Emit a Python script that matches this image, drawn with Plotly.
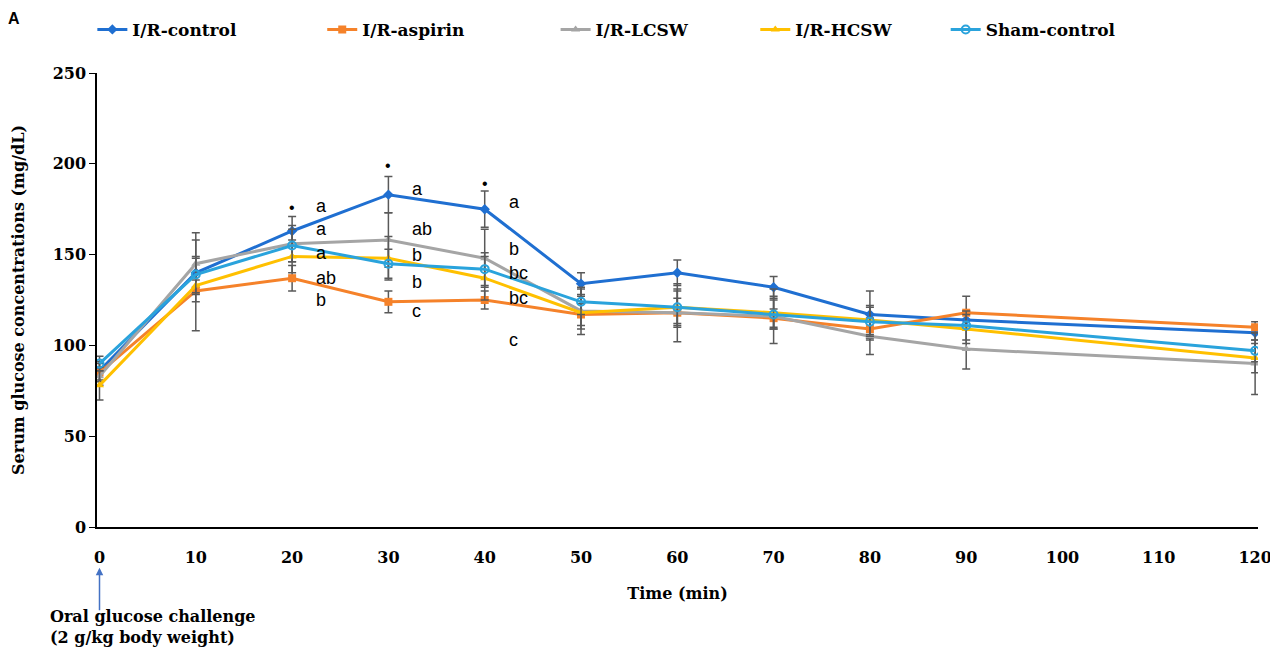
import plotly.graph_objects as go

time = [0, 10, 20, 30, 40, 50, 60, 70, 80, 90, 120]
x_ticks = [0, 10, 20, 30, 40, 50, 60, 70, 80, 90, 100, 110, 120]

ctrl = [86, 140, 163, 183, 175, 134, 140, 132, 117, 114, 107]
ctrl_err = [5, 8, 8, 10, 10, 6, 7, 6, 13, 5, 4]
aspirin = [85, 130, 137, 124, 125, 117, 118, 115, 109, 118, 110]
aspirin_err = [5, 6, 7, 6, 5, 6, 8, 5, 6, 9, 3]
lcsw = [83, 145, 156, 158, 148, 119, 118, 116, 105, 98, 90]
lcsw_err = [5, 17, 10, 15, 16, 13, 16, 15, 10, 11, 17]
hcsw = [78, 133, 149, 148, 137, 118, 121, 118, 114, 109, 93]
hcsw_err = [8, 25, 9, 12, 12, 9, 10, 9, 8, 8, 8]
sham = [90, 139, 155, 145, 142, 124, 121, 117, 113, 111, 97]
sham_err = [4, 10, 9, 8, 9, 7, 9, 8, 8, 8, 6]

names = ["I/R-control", "I/R-aspirin", "I/R-LCSW", "I/R-HCSW", "Sham-control"]
colors = ["#1F6FD1", "#F5822A", "#A5A5A5", "#FFC000", "#2AA3DC"]

# significance letters: (time, y, text)
letter_t = [20, 20, 20, 20, 20, 30, 30, 30, 30, 30, 40, 40, 40, 40, 40]
letter_y = [177, 164, 151, 137, 125, 186, 164, 150, 135, 119, 179, 153, 140, 126, 103]
letter_s = ["a", "a", "a", "ab", "b", "a", "ab", "b", "b", "c", "a", "b", "bc", "bc", "c"]
star_t = [20, 30, 40]
star_y = [176, 199, 189]

fig = go.Figure()
series = [(ctrl, ctrl_err, "diamond"), (aspirin, aspirin_err, "square"),
          (lcsw, lcsw_err, "triangle-up"), (hcsw, hcsw_err, "triangle-up"),
          (sham, sham_err, "circle-open")]
legend_ids = ["legend", "legend2", "legend3", "legend4", "legend5"]
for i, (vals, err, sym) in enumerate(series):
    fig.add_trace(go.Scatter(
        x=time, y=vals, name=names[i], mode="lines+markers",
        line=dict(color=colors[i], width=3),
        marker=dict(symbol=sym, size=8, color=colors[i],
                    line=dict(color=colors[i], width=2 if sym == "circle-open" else 0)),
        error_y=dict(type="data", array=err, visible=True, color="#595959",
                     thickness=1.5, width=4),
        legend=legend_ids[i], showlegend=True,
    ))

serif = "DejaVu Serif"
annotations = []
for t, yv, s in zip(letter_t, letter_y, letter_s):
    annotations.append(dict(x=t, y=yv, xref="x", yref="y", text=s, showarrow=False,
                            xanchor="left", xshift=22,
                            font=dict(family="Liberation Sans, Arial", size=18, color="black")))
for t, yv in zip(star_t, star_y):
    annotations.append(dict(x=t, y=yv, xref="x", yref="y", text="•", showarrow=False,
                            font=dict(family="Liberation Sans", size=16, color="black")))
annotations.append(dict(x=-0.078, y=1.12, xref="paper", yref="paper", text="<b>A</b>",
                        showarrow=False, xanchor="left", yanchor="middle",
                        font=dict(family="Liberation Sans", size=16, color="black")))
annotations.append(dict(x=0, y=-0.09, xref="x", yref="paper", text="", showarrow=True,
                        ax=0, ay=44, arrowhead=2, arrowsize=1, arrowwidth=1.5,
                        arrowcolor="#4472C4"))
annotations.append(dict(x=-0.042, y=-0.172, xref="paper", yref="paper",
                        text="<b>Oral glucose challenge<br>(2 g/kg body weight)</b>",
                        showarrow=False, xanchor="left", yanchor="top", align="left",
                        font=dict(family=serif, size=16, color="black")))

leg_x = [-0.004, 0.194, 0.395, 0.567, 0.731]
layout_legends = {}
for lid, lx in zip(legend_ids, leg_x):
    layout_legends[lid] = dict(x=lx, y=1.095, xanchor="left", yanchor="middle",
                               orientation="h", bgcolor="rgba(0,0,0,0)",
                               font=dict(family=serif, size=17, color="black", weight="bold"),
                               itemwidth=30)

fig.update_layout(
    width=1270, height=644,
    margin=dict(l=89, r=20, t=65, b=125, autoexpand=False),
    plot_bgcolor="white", paper_bgcolor="white",
    showlegend=True,
    annotations=annotations,
    **layout_legends,
    xaxis=dict(range=[-0.26, 120.3], tickvals=x_ticks, showgrid=False, zeroline=False,
               showline=True, linecolor="black", linewidth=1.5, ticks="",
               ticklabelstandoff=15,
               tickfont=dict(family=serif, size=16, color="black", weight="bold"),
               title=dict(text="<b>Time (min)</b>", standoff=22,
                          font=dict(family=serif, size=16, color="black"))),
    yaxis=dict(range=[0, 250], tickvals=[0, 50, 100, 150, 200, 250], showgrid=False,
               zeroline=False, showline=True, linecolor="black", linewidth=1.5,
               ticks="outside", ticklen=6, tickcolor="black",
               tickfont=dict(family=serif, size=16, color="black", weight="bold"),
               title=dict(text="<b>Serum glucose concentrations (mg/dL)</b>", standoff=24,
                          font=dict(family=serif, size=16, color="black"))),
)

fig.write_html("out.html")
